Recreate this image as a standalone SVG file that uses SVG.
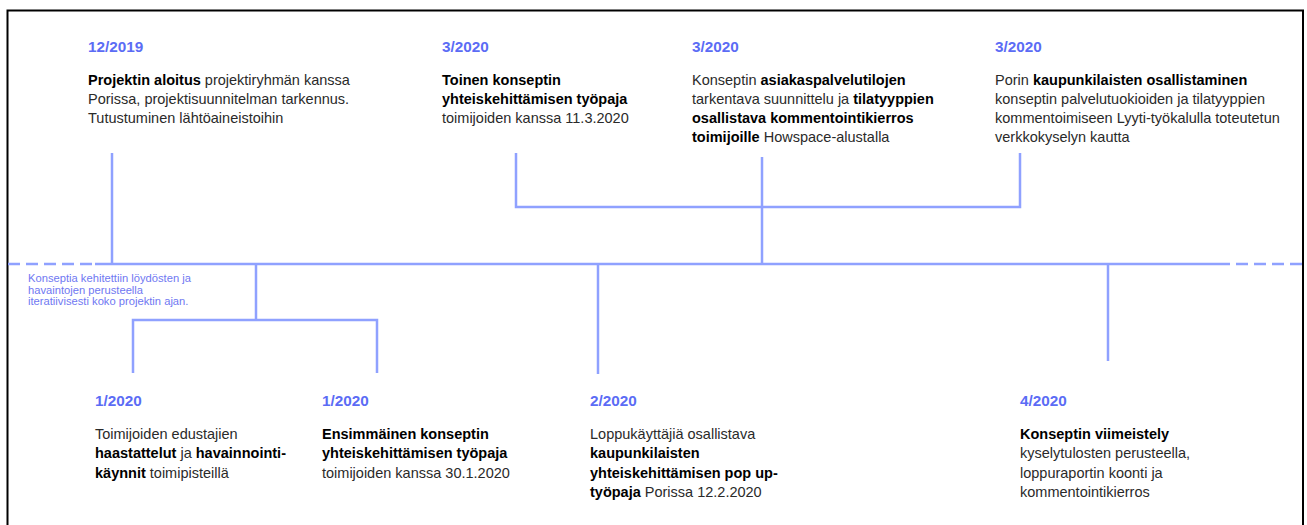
<svg xmlns="http://www.w3.org/2000/svg" width="1307" height="525" viewBox="0 0 1307 525">
<style>
.date{font-family:"Liberation Sans",Arial,sans-serif;font-size:15.3px;font-weight:bold;fill:#5b6cf5}
.body{font-family:"Liberation Sans",Arial,sans-serif;font-size:14.5px;fill:#2a2a2a}
.b{font-weight:bold;fill:#000}
.note{font-family:"Liberation Sans",Arial,sans-serif;font-size:11.2px;fill:#6f78f2}
.ln{stroke:#8fa1ff;stroke-width:2.5;fill:none}
.dash{stroke:#8fa1ff;stroke-width:2.5;fill:none;stroke-dasharray:12 6}
</style>
<rect width="1307" height="525" fill="#fff"/>
<path d="M7.5,530 V10.5 H1303 V530" fill="none" stroke="#000" stroke-width="2"/>
<g id="connectors">
<path class="dash" d="M8,264 H95"/>
<path class="ln" d="M95,264 H1218"/>
<path class="dash" d="M1218,264 H1302"/>
<path class="ln" d="M112,153 V264"/>
<path class="ln" d="M516,153 V207 H1020 V153"/>
<path class="ln" d="M762,157 V264"/>
<path class="ln" d="M256,264 V320"/>
<path class="ln" d="M133,373 V320 H377 V373"/>
<path class="ln" d="M598,264 V374"/>
<path class="ln" d="M1108,264 V361"/>
</g>
<g id="note">
<text class="note" x="28" y="282">Konseptia kehitettiin löydösten ja</text>
<text class="note" x="28" y="294">havaintojen perusteella</text>
<text class="note" x="28" y="305">iteratiivisesti koko projektin ajan.</text>
</g>
<g id="n-12-2019">
<text class="date" x="88" y="52">12/2019</text>
<text class="body" x="88" y="85"><tspan class="b">Projektin aloitus</tspan> projektiryhmän kanssa</text>
<text class="body" x="88" y="104">Porissa, projektisuunnitelman tarkennus.</text>
<text class="body" x="88" y="123">Tutustuminen lähtöaineistoihin</text>
</g>
<g id="n-3-2020-a">
<text class="date" x="442" y="52">3/2020</text>
<text class="body b" x="442" y="85">Toinen konseptin</text>
<text class="body b" x="442" y="104">yhteiskehittämisen työpaja</text>
<text class="body" x="442" y="123">toimijoiden kanssa 11.3.2020</text>
</g>
<g id="n-3-2020-b">
<text class="date" x="692" y="52">3/2020</text>
<text class="body" x="692" y="85">Konseptin <tspan class="b">asiakaspalvelutilojen</tspan></text>
<text class="body" x="692" y="104">tarkentava suunnittelu ja <tspan class="b">tilatyyppien</tspan></text>
<text class="body b" x="692" y="123">osallistava kommentointikierros</text>
<text class="body" x="692" y="142"><tspan class="b">toimijoille</tspan> Howspace-alustalla</text>
</g>
<g id="n-3-2020-c">
<text class="date" x="995" y="52">3/2020</text>
<text class="body" x="995" y="85">Porin <tspan class="b">kaupunkilaisten osallistaminen</tspan></text>
<text class="body" x="995" y="104">konseptin palvelutuokioiden ja tilatyyppien</text>
<text class="body" x="995" y="123">kommentoimiseen Lyyti-työkalulla toteutetun</text>
<text class="body" x="995" y="142">verkkokyselyn kautta</text>
</g>
<g id="n-1-2020-a">
<text class="date" x="95" y="406">1/2020</text>
<text class="body" x="95" y="439">Toimijoiden edustajien</text>
<text class="body" x="95" y="458"><tspan class="b">haastattelut</tspan> ja <tspan class="b">havainnointi-</tspan></text>
<text class="body" x="95" y="478"><tspan class="b">käynnit</tspan> toimipisteillä</text>
</g>
<g id="n-1-2020-b">
<text class="date" x="322" y="406">1/2020</text>
<text class="body b" x="322" y="439">Ensimmäinen konseptin</text>
<text class="body b" x="322" y="458">yhteiskehittämisen työpaja</text>
<text class="body" x="322" y="478">toimijoiden kanssa 30.1.2020</text>
</g>
<g id="n-2-2020">
<text class="date" x="590" y="406">2/2020</text>
<text class="body" x="590" y="439">Loppukäyttäjiä osallistava</text>
<text class="body b" x="590" y="458">kaupunkilaisten</text>
<text class="body b" x="590" y="478">yhteiskehittämisen pop up-</text>
<text class="body" x="590" y="497"><tspan class="b">työpaja</tspan> Porissa 12.2.2020</text>
</g>
<g id="n-4-2020">
<text class="date" x="1020" y="406">4/2020</text>
<text class="body b" x="1020" y="439">Konseptin viimeistely</text>
<text class="body" x="1020" y="458">kyselytulosten perusteella,</text>
<text class="body" x="1020" y="478">loppuraportin koonti ja</text>
<text class="body" x="1020" y="497">kommentointikierros</text>
</g>
</svg>
